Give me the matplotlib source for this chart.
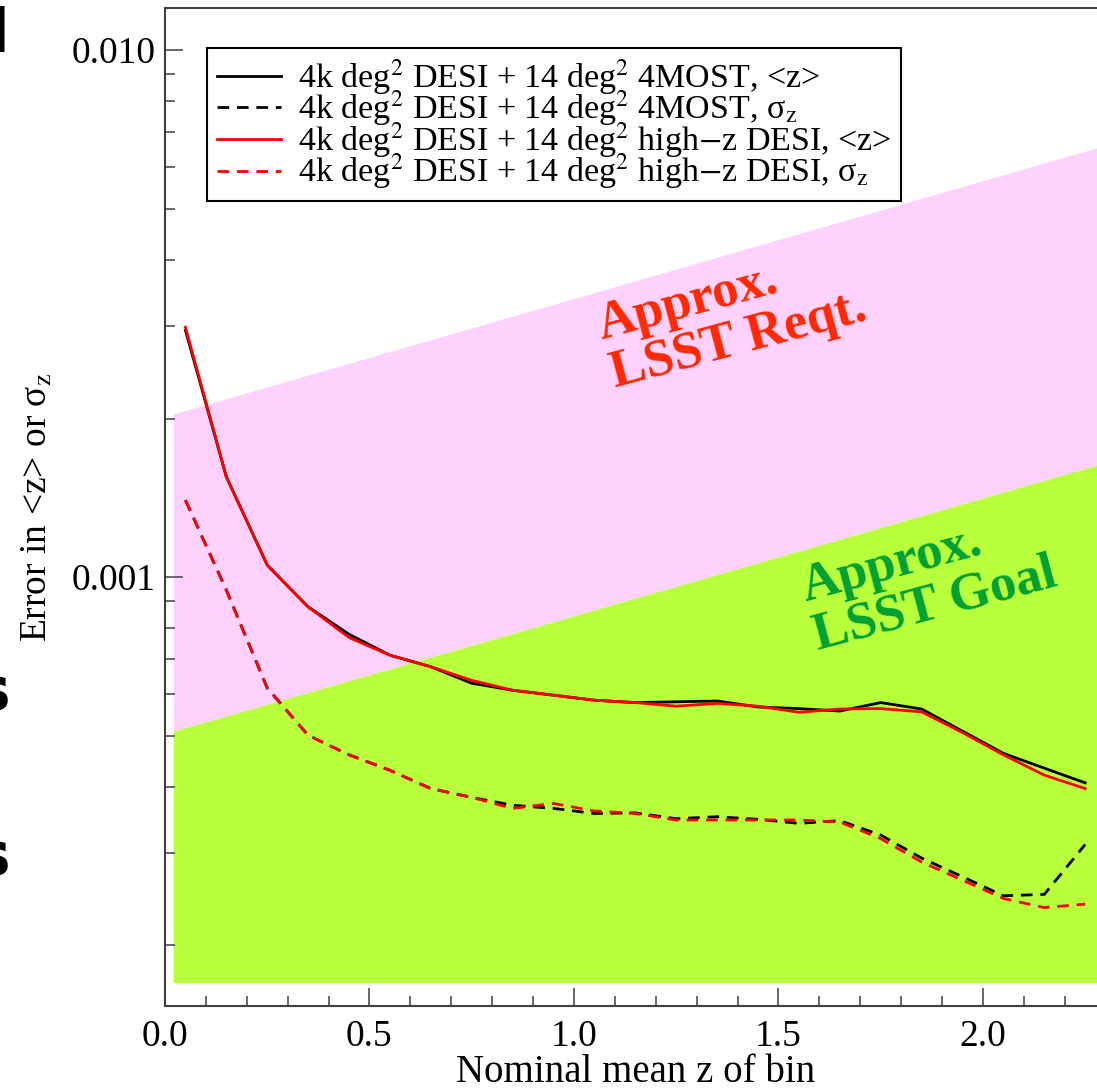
import numpy as np
import matplotlib
matplotlib.use("Agg")
import matplotlib.pyplot as plt

plt.rcParams["font.family"] = ["Liberation Serif", "DejaVu Serif"]
plt.rcParams["mathtext.fontset"] = "stix"

# Bin centres in redshift
z_bins = [0.05, 0.15, 0.25, 0.35, 0.45, 0.55, 0.65, 0.75, 0.85, 0.95, 1.05, 1.15,
          1.25, 1.35, 1.45, 1.55, 1.65, 1.75, 1.85, 1.95, 2.05, 2.15, 2.25]

# Error in <z>, DESI + 4MOST
mean_4most = [2.94e-3, 1.55e-3, 1.054e-3, 0.878e-3, 0.779e-3, 0.711e-3, 0.676e-3,
              0.629e-3, 0.610e-3, 0.597e-3, 0.584e-3, 0.578e-3, 0.580e-3, 0.582e-3,
              0.567e-3, 0.563e-3, 0.557e-3, 0.578e-3, 0.562e-3, 0.510e-3, 0.463e-3,
              0.434e-3, 0.407e-3]
# Error in sigma_z, DESI + 4MOST
sigma_4most = [1.40e-3, 0.945e-3, 0.616e-3, 0.501e-3, 0.460e-3, 0.430e-3, 0.397e-3,
               0.382e-3, 0.369e-3, 0.364e-3, 0.356e-3, 0.357e-3, 0.348e-3, 0.351e-3,
               0.347e-3, 0.341e-3, 0.345e-3, 0.324e-3, 0.293e-3, 0.270e-3, 0.2485e-3,
               0.250e-3, 0.311e-3]
# Error in <z>, DESI + high-z DESI
mean_hiz = [2.98e-3, 1.55e-3, 1.054e-3, 0.878e-3, 0.768e-3, 0.711e-3, 0.676e-3,
            0.637e-3, 0.610e-3, 0.597e-3, 0.584e-3, 0.578e-3, 0.569e-3, 0.576e-3,
            0.569e-3, 0.554e-3, 0.562e-3, 0.563e-3, 0.555e-3, 0.507e-3, 0.460e-3,
            0.421e-3, 0.397e-3]
# Error in sigma_z, DESI + high-z DESI
sigma_hiz = [1.40e-3, 0.945e-3, 0.616e-3, 0.501e-3, 0.460e-3, 0.430e-3, 0.397e-3,
             0.382e-3, 0.364e-3, 0.372e-3, 0.360e-3, 0.356e-3, 0.346e-3, 0.346e-3,
             0.346e-3, 0.346e-3, 0.343e-3, 0.319e-3, 0.288e-3, 0.266e-3, 0.2456e-3,
             0.236e-3, 0.2396e-3]

labels = [r"4k deg$^2$ DESI + 14 deg$^2$ 4MOST, <z>",
          r"4k deg$^2$ DESI + 14 deg$^2$ 4MOST, σ$_{\rm z}$",
          r"4k deg$^2$ DESI + 14 deg$^2$ high$-$z DESI, <z>",
          r"4k deg$^2$ DESI + 14 deg$^2$ high$-$z DESI, σ$_{\rm z}$"]

# Approximate LSST requirement and goal, coeff * (1+z) at the band ends
req_coeff = 0.002
goal_coeff = 0.0005
band_floor = 1.7e-4
band_z = np.array([0.02, 2.3])

fig = plt.figure(figsize=(10.97, 10.91), dpi=100)
ax = fig.add_axes([0.1504, 0.0779, 0.8575, 0.9147])

ax.fill_between(band_z, goal_coeff * (1 + band_z), req_coeff * (1 + band_z),
                color="#FFD1FD", lw=0, zorder=1)
ax.fill_between(band_z, band_floor, goal_coeff * (1 + band_z),
                color="#B8FF3C", lw=0, zorder=1)

lw = 2.0
dash = (4.2, 2.8)
ax.plot(z_bins, mean_4most, color="black", lw=lw, label=labels[0], zorder=3)
ax.plot(z_bins, sigma_4most, color="black", lw=lw, dashes=dash, label=labels[1], zorder=3)
ax.plot(z_bins, mean_hiz, color="red", lw=lw, label=labels[2], zorder=4)
ax.plot(z_bins, sigma_hiz, color="red", lw=lw, dashes=dash, label=labels[3], zorder=4)

ax.set_yscale("log")
ax.set_xlim(0, 2.3)
ax.set_ylim(1.535e-4, 1.202e-2)

ax.set_xticks([0.0, 0.5, 1.0, 1.5, 2.0])
ax.set_xticklabels(["0.0", "0.5", "1.0", "1.5", "2.0"])
ax.set_xticks(np.arange(0.1, 2.3, 0.1), minor=True)
ax.set_yticks([0.001, 0.01])
ax.set_yticklabels(["0.001", "0.010"])
ax.set_yticks([2e-4, 3e-4, 4e-4, 5e-4, 6e-4, 7e-4, 8e-4, 9e-4,
               2e-3, 3e-3, 4e-3, 5e-3, 6e-3, 7e-3, 8e-3, 9e-3], minor=True)
ax.yaxis.set_minor_formatter(matplotlib.ticker.NullFormatter())

ax.tick_params(which="major", direction="in", length=13, width=1.1,
               color="#404040", labelsize=27, top=False, right=False)
ax.tick_params(which="minor", direction="in", length=7, width=1.1,
               color="#404040", top=False, right=False)
ax.tick_params(axis="x", which="major", pad=10)
ax.tick_params(axis="y", which="major", pad=7)
for s in ax.spines.values():
    s.set_linewidth(1.5)
    s.set_color("#404040")

ax.set_xlabel("Nominal mean z of bin", fontsize=28, labelpad=0)
ax.set_ylabel("Error in <z> or σ$_{\\rm z}$", fontsize=27, labelpad=12)

leg = ax.legend(loc="upper left", bbox_to_anchor=(0.1887, 0.956),
                bbox_transform=fig.transFigure, fontsize=24.5, frameon=True,
                fancybox=False, edgecolor="black", framealpha=1,
                handlelength=1.9, handletextpad=0.5, labelspacing=-0.22,
                borderpad=0.28, borderaxespad=0)
leg.get_frame().set_linewidth(1.5)

ax.text(1.386, 3.12e-3, "Approx.\nLSST Reqt.", color="#FF2800", fontsize=38,
        fontweight="bold", rotation=15, ha="center", va="center",
        multialignment="left", linespacing=1.05, zorder=2)
ax.text(1.868, 0.987e-3, "Approx.\nLSST Goal", color="#00A032", fontsize=38,
        fontweight="bold", rotation=15, ha="center", va="center",
        multialignment="left", linespacing=1.05, zorder=2)

# Edge glyphs of neighbouring slide text
side = dict(family="DejaVu Sans", fontweight="bold", fontsize=43, color="black",
            ha="right", va="baseline")
fig.text(10 / 1097, 1 - 52 / 1091, "l", **side)
fig.text(11 / 1097, 1 - 710 / 1091, "s", **side)
fig.text(11 / 1097, 1 - 875 / 1091, "s", **side)

fig.savefig("out.png", dpi=100)
